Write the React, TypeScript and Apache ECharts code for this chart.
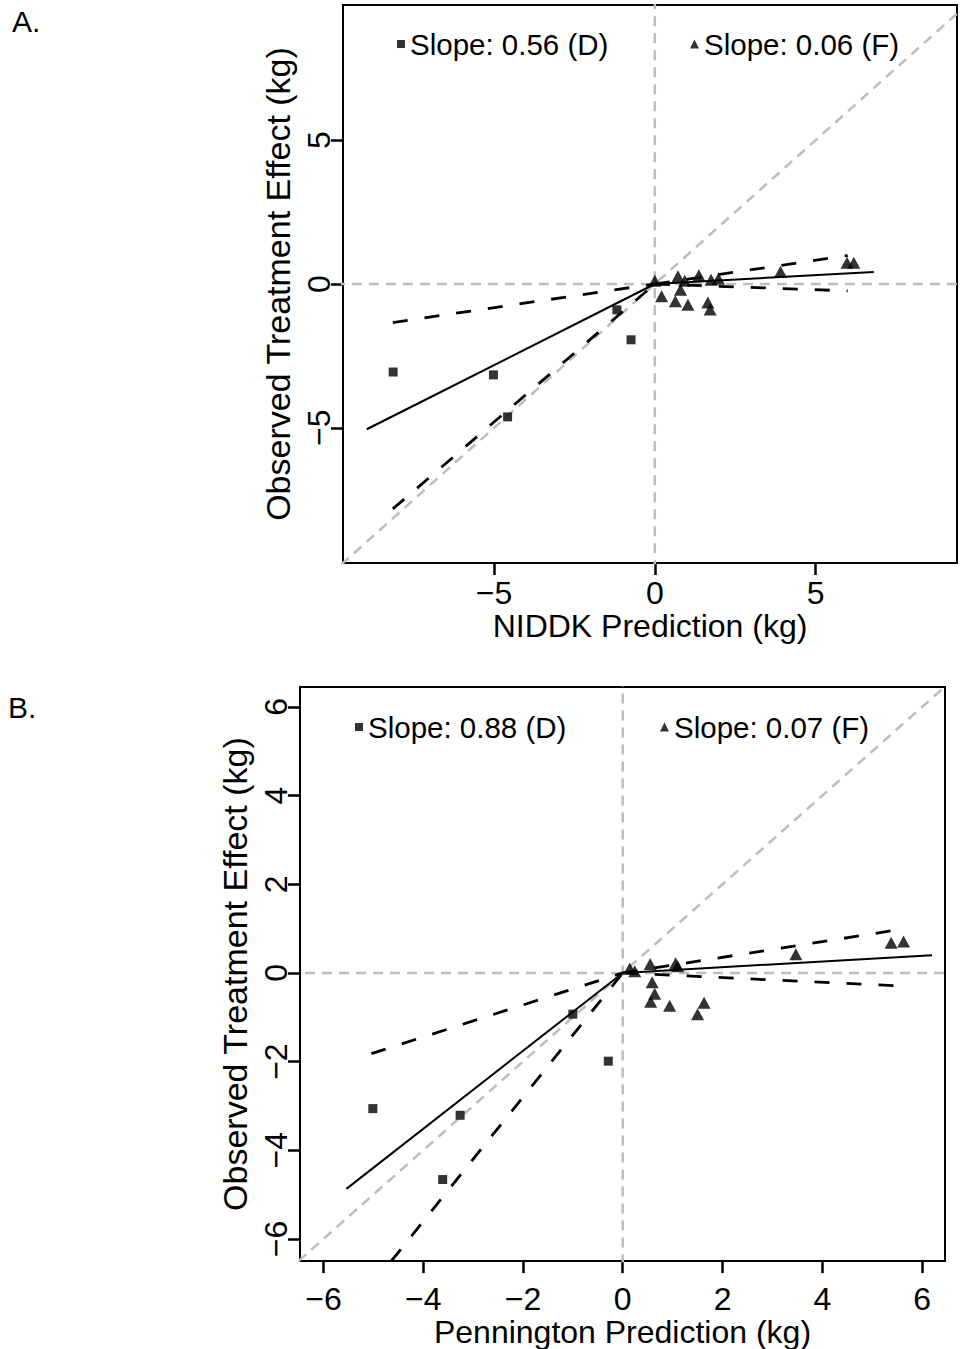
import React, { useEffect, useRef } from "react";
import * as echarts from "echarts";

// ---------- Panel A: NIDDK prediction vs observed ----------
const aTicks = [-5, 0, 5];
const aDietX = [-8.14, -5.02, -4.58, -1.18, -0.74];
const aDietY = [-3.06, -3.16, -4.62, -0.9, -1.94];
const aFastX = [0.0, 0.21, 0.72, 0.8, 0.64, 1.03, 0.93, 1.37, 1.65, 1.72, 1.75, 1.98, 3.91, 5.98, 6.19];
const aFastY = [0.11, -0.43, 0.27, -0.2, -0.6, -0.72, 0.11, 0.3, -0.64, -0.89, 0.15, 0.18, 0.43, 0.74, 0.74];
const aDietFit = [[-8.96, -5.05], [0, 0]];
const aDietUpper = [[-8.15, -1.34], [0, 0]];
const aDietLower = [[-8.15, -7.82], [0, 0]];
const aFastFit = [[0, 0], [6.81, 0.42]];
const aFastUpper = [[0, 0], [6.0, 0.99]];
const aFastLower = [[0, 0], [6.0, -0.24]];
const aSlopeD = "Slope: 0.56 (D)";
const aSlopeF = "Slope: 0.06 (F)";

// ---------- Panel B: Pennington prediction vs observed ----------
const bTicks = [-6, -4, -2, 0, 2, 4, 6];
const bDietX = [-5.01, -3.26, -3.61, -1.0, -0.29];
const bDietY = [-3.06, -3.21, -4.66, -0.93, -1.99];
const bFastX = [0.14, 0.24, 0.55, 0.59, 0.64, 0.56, 0.94, 1.06, 1.1, 1.63, 1.5, 3.47, 5.38, 5.63];
const bFastY = [0.1, 0.04, 0.2, -0.21, -0.47, -0.65, -0.74, 0.22, 0.15, -0.67, -0.93, 0.42, 0.68, 0.71];
const bDietFit = [[-5.54, -4.87], [0, 0]];
const bDietUpper = [[-5.04, -1.82], [0, 0]];
const bDietLower = [[-5.04, -7.06], [0, 0]];
const bFastFit = [[0, 0], [6.2, 0.4]];
const bFastUpper = [[0, 0], [5.5, 0.97]];
const bFastLower = [[0, 0], [5.5, -0.29]];
const bSlopeD = "Slope: 0.88 (D)";
const bSlopeF = "Slope: 0.07 (F)";

// reference lines (identity, zero lines)
const refDiag = [[-20, -20], [20, 20]];
const refVert = [[0, -20], [0, 20]];
const refHorz = [[-20, 0], [20, 0]];

const FONT = "'Liberation Sans', Arial, Helvetica, sans-serif";
const GRAY = "#bdbdbd";
const fmt = (v: number) => String(v).replace("-", "\u2212");

function xAxis(grid: number, min: number, max: number, ticks: number[], name: string, labelMargin: number, nameGap: number) {
  return {
    type: "value",
    gridIndex: grid,
    min,
    max,
    axisLine: { show: true, onZero: false, lineStyle: { color: "#000", width: 2 } },
    axisTick: { show: true, length: 12, lineStyle: { color: "#000", width: 2.5 }, customValues: ticks },
    axisLabel: { customValues: ticks, formatter: fmt, fontSize: 32, color: "#000", fontFamily: FONT, margin: labelMargin },
    splitLine: { show: false },
    name,
    nameLocation: "middle",
    nameGap,
    nameTextStyle: { fontSize: 32, color: "#000", fontFamily: FONT },
  };
}

function yAxis(grid: number, min: number, max: number, ticks: number[], nameGap: number) {
  return {
    type: "value",
    gridIndex: grid,
    min,
    max,
    axisLine: { show: true, onZero: false, lineStyle: { color: "#000", width: 2 } },
    axisTick: { show: true, length: 12, lineStyle: { color: "#000", width: 2.5 }, customValues: ticks },
    axisLabel: { customValues: ticks, formatter: fmt, fontSize: 32, color: "#000", fontFamily: FONT, margin: 8, rotate: 90 },
    splitLine: { show: false },
    name: "Observed Treatment Effect (kg)",
    nameLocation: "middle",
    nameRotate: 90,
    nameGap,
    nameTextStyle: { fontSize: 34, color: "#000", fontFamily: FONT },
  };
}

function refSeries(grid: number) {
  return [refDiag, refVert, refHorz].map((d) => ({
    type: "line",
    xAxisIndex: grid,
    yAxisIndex: grid,
    data: d,
    showSymbol: false,
    silent: true,
    clip: true,
    lineStyle: { color: GRAY, width: 2.5, type: [10, 7] },
    z: 1,
  }));
}

function fitSeries(grid: number, fit: number[][], up: number[][], lo: number[][]) {
  const base = {
    type: "line",
    xAxisIndex: grid,
    yAxisIndex: grid,
    showSymbol: false,
    silent: true,
    clip: true,
    z: 2,
  };
  return [
    { ...base, data: fit, lineStyle: { color: "#000", width: 2 } },
    { ...base, data: up, lineStyle: { color: "#000", width: 2.8, type: [15, 17] } },
    { ...base, data: lo, lineStyle: { color: "#000", width: 2.8, type: [15, 17] } },
  ];
}

function pts(xs: number[], ys: number[]) {
  return xs.map((x, i) => [x, ys[i]]);
}

function legendItem(name: string, icon: string, left: number, top: number, size: number) {
  return {
    data: [{ name, icon }],
    left,
    top,
    padding: 0,
    itemWidth: size,
    itemHeight: size,
    selectedMode: false,
    textStyle: { fontSize: 29.5, color: "#000", fontFamily: FONT },
  };
}

export default function App() {
  const ref = useRef<HTMLDivElement>(null);
  useEffect(() => {
    if (!ref.current) return;
    const chart = echarts.init(ref.current, undefined, { renderer: "svg" });
    chart.setOption({
      animation: false,
      backgroundColor: "#fff",
      title: [
        { text: "A.", left: 12, top: 6, padding: 0, textStyle: { fontSize: 30, fontWeight: "normal", color: "#000", fontFamily: FONT } },
        { text: "B.", left: 8, top: 692, padding: 0, textStyle: { fontSize: 30, fontWeight: "normal", color: "#000", fontFamily: FONT } },
      ],
      legend: [
        legendItem(aSlopeD, "rect", 397, 29, 8),
        legendItem(aSlopeF, "triangle", 690, 29, 9),
        legendItem(bSlopeD, "rect", 355, 712, 8),
        legendItem(bSlopeF, "triangle", 660, 712, 9),
      ],
      grid: [
        { left: 343, top: 5, width: 614, height: 558, show: true, borderColor: "#000", borderWidth: 2, backgroundColor: "transparent" },
        { left: 300, top: 687, width: 645, height: 580, show: true, borderColor: "#000", borderWidth: 2, backgroundColor: "transparent" },
      ],
      xAxis: [
        xAxis(0, -9.7, 9.4, aTicks, "NIDDK Prediction (kg)", 14, 47),
        xAxis(1, -6.47, 6.46, bTicks, "Pennington Prediction (kg)", 22, 48),
      ],
      yAxis: [yAxis(0, -9.7, 9.7, aTicks, 48), yAxis(1, -6.5, 6.45, bTicks, 48)],
      series: [
        ...refSeries(0),
        ...refSeries(1),
        ...fitSeries(0, aDietFit, aDietUpper, aDietLower),
        ...fitSeries(0, aFastFit, aFastUpper, aFastLower),
        ...fitSeries(1, bDietFit, bDietUpper, bDietLower),
        ...fitSeries(1, bFastFit, bFastUpper, bFastLower),
        { name: aSlopeD, type: "scatter", xAxisIndex: 0, yAxisIndex: 0, data: pts(aDietX, aDietY), symbol: "rect", symbolSize: 9, itemStyle: { color: "#000" }, z: 3 },
        { name: aSlopeF, type: "scatter", xAxisIndex: 0, yAxisIndex: 0, data: pts(aFastX, aFastY), symbol: "triangle", symbolSize: [13, 12], itemStyle: { color: "#000" }, z: 3 },
        { name: bSlopeD, type: "scatter", xAxisIndex: 1, yAxisIndex: 1, data: pts(bDietX, bDietY), symbol: "rect", symbolSize: 9, itemStyle: { color: "#000" }, z: 3 },
        { name: bSlopeF, type: "scatter", xAxisIndex: 1, yAxisIndex: 1, data: pts(bFastX, bFastY), symbol: "triangle", symbolSize: [13, 12], itemStyle: { color: "#000" }, z: 3 },
      ],
    });
    return () => chart.dispose();
  }, []);
  return <div ref={ref} style={{ position: "absolute", left: 0, top: 0, width: 960, height: 1349, background: "#fff" }} />;
}
